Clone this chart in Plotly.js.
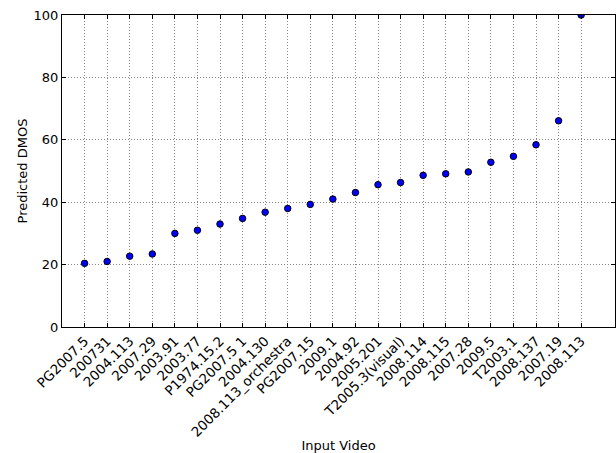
<!DOCTYPE html>
<html><head><meta charset="utf-8">
<script src="https://cdn.plot.ly/plotly-3.0.1.min.js"></script>
<style>html,body{margin:0;padding:0;background:#fff}#chart{width:616px;height:453px}</style>
</head><body><div id="chart"></div>
<script>
const videos = ["PG2007.5","200731","2004.113","2007.29","2003.91","2003.77","P1974.15.2","PG2007.5 1","2004.130","2008.113_orchestra","PG2007.15","2009.1","2004.92","2005.201","T2005.3(visual)","2008.114","2008.115","2007.28","2009.5","T2003.1","2008.137","2007.19","2008.113"];
const dmos = [20.4,21.0,22.7,23.4,30.0,31.0,33.0,34.8,36.8,38.0,39.3,41.0,43.1,45.6,46.3,48.6,49.1,49.7,52.8,54.7,58.4,66.1,100];
const yTicks = [0,20,40,60,80,100];

const font = {family:"DejaVu Sans, sans-serif", size:13, color:"#000"};
Plotly.newPlot("chart", [{
  x: videos, y: dmos, type:"scatter", mode:"markers",
  marker:{color:"#0000ff", size:6.5, line:{color:"#000", width:1}},
  cliponaxis:true, hoverinfo:"none"
}], {
  width:616, height:453,
  margin:{l:62, r:1, t:15, b:126},
  paper_bgcolor:"#fff", plot_bgcolor:"#fff",
  showlegend:false, font:font,
  xaxis:{type:"category", range:[-1,23.5], tickangle:-45,
    showline:true, linecolor:"#000", linewidth:1, mirror:"ticks",
    ticks:"inside", ticklen:4, tickcolor:"#000",
    showgrid:true, gridcolor:"#888", griddash:"1px,2px", gridwidth:1,
    zeroline:false, tickfont:{family:font.family,size:13.5,color:"#000"},
    title:{text:"Input Video", font:{family:font.family,size:13,color:"#000"}, standoff:11}},
  yaxis:{range:[0,100], tickvals:yTicks, ticktext:yTicks.map(String),
    showline:true, linecolor:"#000", linewidth:1, mirror:"ticks",
    ticks:"inside", ticklen:4, tickcolor:"#000",
    showgrid:true, gridcolor:"#888", griddash:"1px,2px", gridwidth:1,
    zeroline:false, tickfont:{family:font.family,size:13,color:"#000"},
    title:{text:"Predicted DMOS", font:{family:font.family,size:13,color:"#000"}, standoff:3}}
}, {staticPlot:true});
</script></body></html>
